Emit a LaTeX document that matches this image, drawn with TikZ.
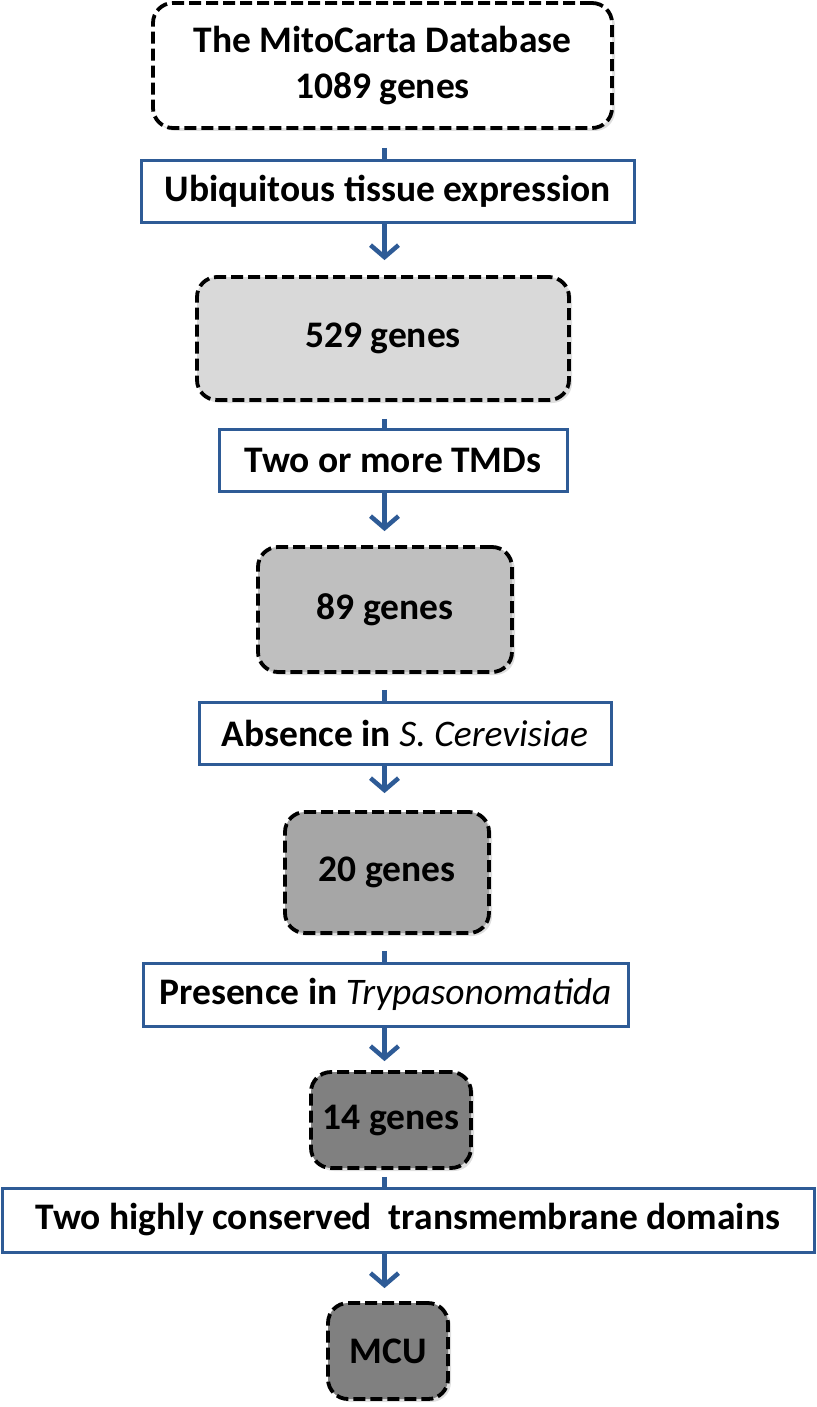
\documentclass[tikz,border=0pt]{standalone}
\usepackage{fontspec}
\setmainfont{Carlito}
\usetikzlibrary{arrows.meta,shadows}
\definecolor{fblue}{HTML}{2E5B96}
\definecolor{g1}{HTML}{D9D9D9}
\definecolor{g2}{HTML}{BFBFBF}
\definecolor{g3}{HTML}{A6A6A6}
\definecolor{g4}{HTML}{808080}
\tikzset{
  genebox/.style={draw=black, line width=3.8pt, dash pattern=on 12pt off 5pt,
    rounded corners=20pt, align=center, inner sep=0pt,
    font=\fontsize{37.5}{46}\selectfont\bfseries,
    drop shadow={opacity=0.25, shadow xshift=3pt, shadow yshift=-3pt}},
  filterbox/.style={draw=fblue, line width=3pt, fill=white, inner sep=0pt,
    align=center, font=\fontsize{37.5}{46}\selectfont\bfseries},
  conn/.style={draw=fblue, line width=4.5pt},
  arr/.style={conn, -{Straight Barb[length=12pt, width=28pt, line width=4.5pt]}}
}
\begin{document}
\begin{tikzpicture}[x=1pt,y=-1pt]
\useasboundingbox (0,0) rectangle (816,1407);
\coordinate (ax) at (384.5,0);

\node[genebox, fill=white, minimum width=459pt, minimum height=125pt] (b1089) at (382.5,65.5)
  {The MitoCarta Database\\1089 genes};
\node[filterbox, minimum width=493pt, minimum height=61pt] (ubiq) at (387.5,191.5)
  {Ubiquitous tissue expression};
\node[genebox, fill=g1, minimum width=372pt, minimum height=123pt] (b529) at (383,338.5)
  {529 genes};
\node[filterbox, minimum width=348pt, minimum height=62pt] (tmd) at (393,460)
  {Two or more TMDs};
\node[genebox, fill=g2, minimum width=254pt, minimum height=125pt] (b89) at (385,609.5)
  {89 genes};
\node[filterbox, minimum width=412pt, minimum height=62pt] (abs) at (405,733)
  {Absence in \textmd{\itshape S. Cerevisiae}};
\node[genebox, fill=g3, minimum width=204pt, minimum height=121pt] (b20) at (387,872.5)
  {20 genes};
\node[filterbox, minimum width=485pt, minimum height=63pt] (pres) at (385.5,994.5)
  {Presence in \textmd{\itshape Trypasonomatida}};
\node[genebox, fill=g4, minimum width=160pt, minimum height=96pt] (b14) at (391,1120)
  {14 genes};
\node[filterbox, minimum width=812pt, minimum height=64pt] (two) at (408,1220)
  {Two highly conserved\ \ transmembrane domains};
\node[genebox, fill=g4, minimum width=120pt, minimum height=96pt] (mcu) at (388,1351)
  {MCU};

\draw[conn, shorten <=18pt] (b1089.south -| ax) -- (ubiq.north -| ax);
\draw[arr, shorten >=15pt] (ubiq.south -| ax) -- (b529.north -| ax);
\draw[conn, shorten <=17pt] (b529.south -| ax) -- (tmd.north -| ax);
\draw[arr, shorten >=14pt] (tmd.south -| ax) -- (b89.north -| ax);
\draw[conn, shorten <=16pt] (b89.south -| ax) -- (abs.north -| ax);
\draw[arr, shorten >=17pt] (abs.south -| ax) -- (b20.north -| ax);
\draw[conn, shorten <=16pt] (b20.south -| ax) -- (pres.north -| ax);
\draw[arr, shorten >=9pt] (pres.south -| ax) -- (b14.north -| ax);
\draw[conn, shorten <=7pt] (b14.south -| ax) -- (two.north -| ax);
\draw[arr, shorten >=13pt] (two.south -| ax) -- (mcu.north -| ax);
\end{tikzpicture}
\end{document}
